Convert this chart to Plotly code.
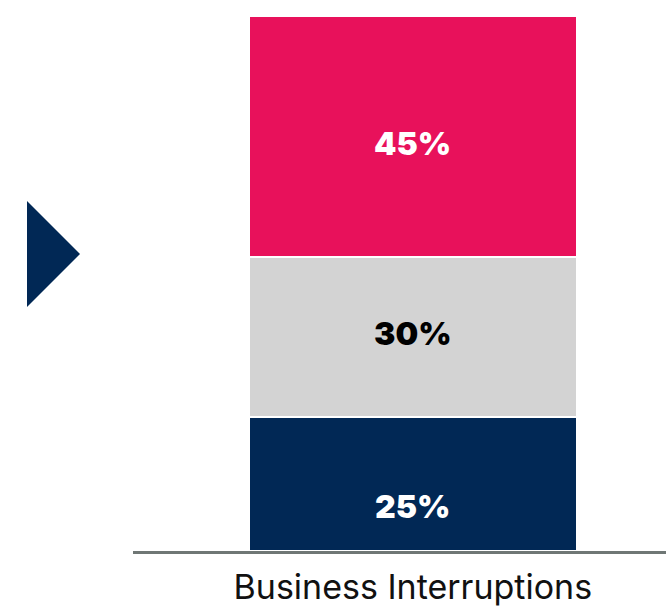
import plotly.graph_objects as go

# Share of business interruptions by segment (bottom to top)
category = ["Business Interruptions"]
segment_names = ["Low", "Medium", "High"]
segment_values = [25, 30, 45]
segment_colors = ["#012855", "#d3d3d3", "#e8115b"]
label_colors = ["#ffffff", "#000000", "#ffffff"]
# where each value label sits inside its segment (fraction of segment height)
label_offsets = [0.33, 0.52, 0.47]

W, H = 666, 606
MB = 55  # bottom margin (room for category label)

fig = go.Figure()
for name, val, col in zip(segment_names, segment_values, segment_colors):
    fig.add_trace(go.Bar(
        x=category, y=[val], name=name,
        marker=dict(color=col, line=dict(color="#ffffff", width=2.5)),
        width=0.615, hoverinfo="skip",
    ))

# value labels
base = 0
for val, tc, off in zip(segment_values, label_colors, label_offsets):
    fig.add_annotation(
        x=category[0], y=base + val * off, text=f"{val}%",
        showarrow=False, xref="x", yref="y",
        font=dict(family="Inter, Liberation Sans, Arial, sans-serif", size=32,
                  color=tc, weight=900),
    )
    base += val

# navy pointer triangle on the left
tx0, tx1 = 27 / W, 80 / W
ph = H - MB
ty_top, ty_bot, ty_mid = (ph - 201) / ph, (ph - 307) / ph, (ph - 254) / ph
fig.add_shape(
    type="path", xref="paper", yref="paper",
    path=f"M {tx0} {ty_top} L {tx1} {ty_mid} L {tx0} {ty_bot} Z",
    fillcolor="#012855", line=dict(width=0),
)

fig.update_layout(
    width=W, height=H,
    margin=dict(l=0, r=0, t=0, b=MB),
    barmode="stack", bargap=0,
    plot_bgcolor="#ffffff", paper_bgcolor="#ffffff",
    showlegend=False,
    xaxis=dict(
        domain=[133 / W, 1], range=[-0.525, 0.475],
        showline=True, linecolor="#6f7775", linewidth=2.5,
        showgrid=False, zeroline=False, ticks="",
        ticklabelstandoff=4,
        tickfont=dict(family="Inter, Liberation Sans, sans-serif", size=34, color="#111111"),
    ),
    yaxis=dict(
        range=[0, 100 * ph / 535], visible=False, showgrid=False, zeroline=False,
    ),
)

fig.write_html("out.html")
